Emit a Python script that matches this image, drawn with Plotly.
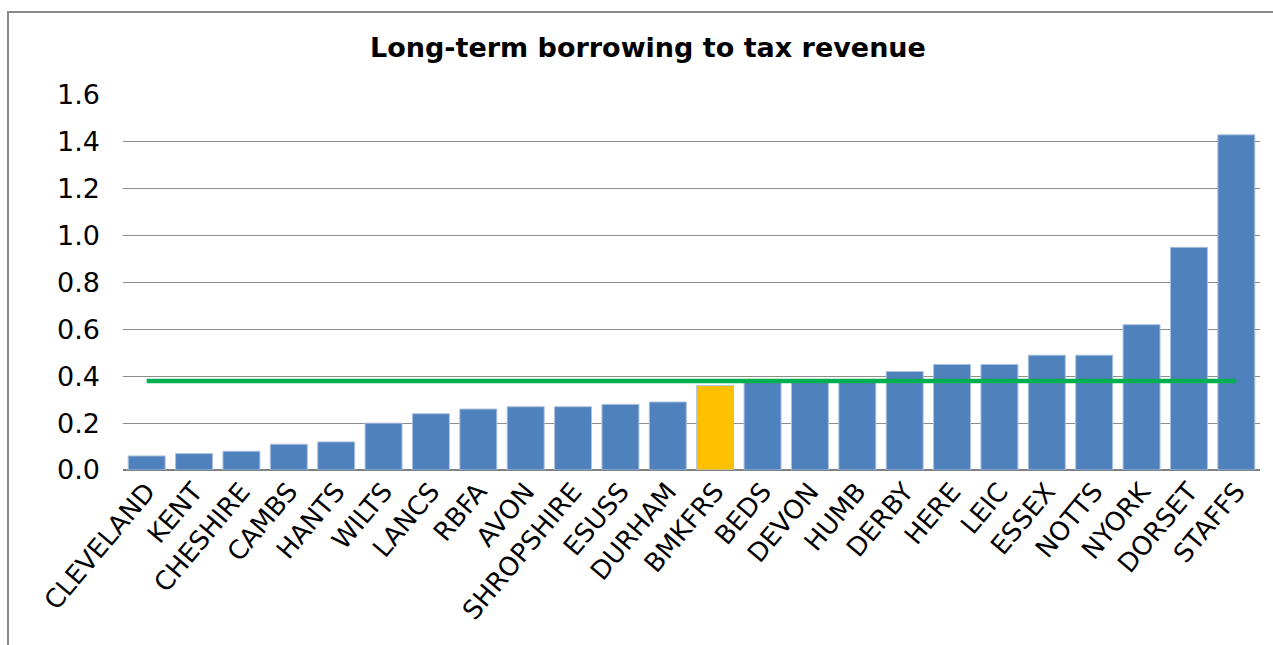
import plotly.graph_objects as go

categories = ["CLEVELAND", "KENT", "CHESHIRE", "CAMBS", "HANTS", "WILTS", "LANCS", "RBFA",
              "AVON", "SHROPSHIRE", "ESUSS", "DURHAM", "BMKFRS", "BEDS", "DEVON", "HUMB",
              "DERBY", "HERE", "LEIC", "ESSEX", "NOTTS", "NYORK", "DORSET", "STAFFS"]
ratio = [0.06, 0.07, 0.08, 0.11, 0.12, 0.20, 0.24, 0.26, 0.27, 0.27, 0.28, 0.29, 0.36,
         0.38, 0.38, 0.38, 0.42, 0.45, 0.45, 0.49, 0.49, 0.62, 0.95, 1.43]
average = [0.38] * len(categories)
highlight = "BMKFRS"
y_ticks = [0.0, 0.2, 0.4, 0.6, 0.8, 1.0, 1.2, 1.4, 1.6]

BLUE = "#4F81BD"
GOLD = "#FFC000"
colors = [GOLD if c == highlight else BLUE for c in categories]

fig = go.Figure()
fig.add_trace(go.Bar(x=categories, y=ratio, marker=dict(color=colors, line=dict(color="#A9C0DE", width=1)),
                     showlegend=False))
fig.add_trace(go.Scatter(x=categories, y=average, mode="lines",
                         line=dict(color="#00B050", width=4.5), showlegend=False))

W, H = 1273, 645
L, R, T, B = 123, 13, 95, 175
pw, ph = W - L - R, H - T - B

def px_x(px):
    return (px - L) / pw

def px_y(py):
    return (H - B - py) / ph

fig.update_layout(
    width=W, height=H,
    margin=dict(l=L, r=R, t=T, b=B),
    paper_bgcolor="white", plot_bgcolor="white",
    bargap=0.22,
    font=dict(family="DejaVu Sans", color="#000000"),
    title=dict(text="<b>Long-term borrowing to tax revenue</b>", x=0.509, xanchor="center",
               y=1 - 48 / H, yanchor="middle", font=dict(size=27, family="DejaVu Sans")),
    xaxis=dict(tickangle=-50, tickfont=dict(size=26), showgrid=False, showline=False,
               ticks="", zeroline=False, fixedrange=True),
    yaxis=dict(range=[0, 1.6], tickvals=y_ticks, ticktext=[f"{v:.1f}" for v in y_ticks],
               tickfont=dict(size=27), showgrid=True, gridcolor="#8C8C8C", gridwidth=1,
               zeroline=True, zerolinecolor="#808080", zerolinewidth=1.5,
               showline=False, ticks="", ticklabelstandoff=22),
    shapes=[dict(type="rect", xref="paper", yref="paper",
                 x0=px_x(8), x1=px_x(1285), y0=px_y(660), y1=px_y(12),
                 line=dict(color="#8A8A8A", width=2), fillcolor="rgba(0,0,0,0)", layer="below")],
)

fig.write_html("out.html")
